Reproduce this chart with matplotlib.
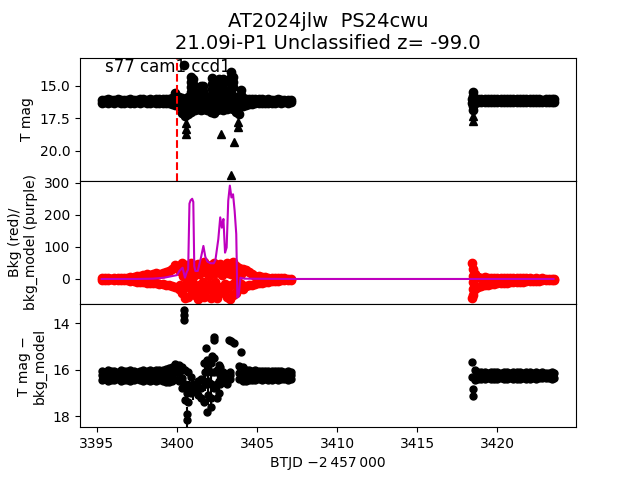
import matplotlib
matplotlib.use('Agg')
import matplotlib.pyplot as plt
import numpy as np

nan = np.nan

# ---- time grids (BTJD - 2457000) ----
t1 = [3395.3, 3395.5, 3395.7, 3395.9, 3396.1, 3396.3, 3396.5, 3396.7, 3396.9, 3397.1,
      3397.3, 3397.5, 3397.7, 3397.9, 3398.1, 3398.3, 3398.5, 3398.7, 3398.9, 3399.1,
      3399.3, 3399.5, 3399.7, 3399.9, 3400.1, 3400.3, 3400.5, 3400.7, 3400.9, 3401.1,
      3401.3, 3401.5, 3401.7, 3401.9, 3402.1, 3402.3, 3402.5, 3402.7, 3402.9, 3403.1,
      3403.3, 3403.5, 3403.7, 3403.9, 3404.1, 3404.3, 3404.5, 3404.7, 3404.9, 3405.1,
      3405.3, 3405.5, 3405.7, 3405.9, 3406.1, 3406.3, 3406.5, 3406.7, 3406.9, 3407.1]
t2 = [3418.4, 3418.6, 3418.8, 3419.0, 3419.2, 3419.4, 3419.6, 3419.8, 3420.0, 3420.2,
      3420.4, 3420.6, 3420.8, 3421.0, 3421.2, 3421.4, 3421.6, 3421.8, 3422.0, 3422.2,
      3422.4, 3422.6, 3422.8, 3423.0, 3423.2, 3423.4, 3423.5]
t_dist = [3400.2, 3400.4, 3400.6, 3400.8, 3401.0, 3401.2, 3401.4, 3401.6, 3401.8, 3402.0,
          3402.2, 3402.4, 3402.6, 3402.8, 3403.0, 3403.2, 3403.4, 3403.6, 3403.8, 3404.0]

# ---- panel 1: T mag ----
mag_hi = [16.08, 16.10, 16.06, 16.10, 16.08, 16.05, 16.10, 16.07, 16.09, 16.05,
          16.08, 16.10, 16.06, 16.04, 16.08, 16.05, 16.07, 16.03, 16.06, 16.04,
          16.02, 16.00, 15.95, 15.55, 15.90, 15.95, 16.00, 15.90, 15.95, 16.00,
          15.90, 15.95, 16.00, 15.90, 16.00, 15.95, 15.90, 16.00, 15.95, 15.90,
          16.00, 15.95, 15.90, 15.95, 15.95, 16.00, 16.02, 16.05, 16.04, 16.06,
          16.05, 16.08, 16.06, 16.07, 16.08, 16.06, 16.09, 16.08, 16.10, 16.10]
mag_lo = [16.30, 16.28, 16.32, 16.29, 16.30, 16.27, 16.31, 16.30, 16.28, 16.30,
          16.32, 16.29, 16.30, 16.28, 16.30, 16.31, 16.29, 16.30, 16.32, 16.33,
          16.35, 16.36, 16.38, 16.45, 16.60, 17.10, 17.30, 17.20, 17.00, 16.90,
          16.80, 16.90, 16.80, 16.90, 17.00, 17.10, 16.90, 16.80, 16.90, 16.80,
          16.70, 16.80, 17.00, 17.20, 16.60, 16.45, 16.40, 16.38, 16.35, 16.33,
          16.32, 16.30, 16.32, 16.30, 16.31, 16.29, 16.30, 16.28, 16.30, 16.28]
mag_mid = [16.45, 16.55, 16.60, 16.45, 16.50, 16.35, 16.40, 16.35, 16.50, 16.40,
           16.35, 16.50, 16.40, 16.35, 16.40, 16.35, 16.40, 16.50, 16.60, 16.30]
mag2_hi = [16.00, 16.02, 16.03, 16.05, 16.02, 16.04, 16.03, 16.05, 16.02, 16.04,
           16.05, 16.03, 16.04, 16.06, 16.03, 16.05, 16.04, 16.06, 16.05, 16.04,
           16.06, 16.05, 16.07, 16.05, 16.06, 16.05, 16.06]
mag2_lo = [16.35, 16.30, 16.28, 16.27, 16.29, 16.26, 16.28, 16.27, 16.29, 16.26,
           16.28, 16.27, 16.26, 16.28, 16.27, 16.26, 16.28, 16.27, 16.26, 16.27,
           16.28, 16.26, 16.27, 16.26, 16.28, 16.27, 16.26]
spk_t = [3400.46, 3400.9, 3400.9, 3400.9, 3400.9, 3400.97, 3400.97, 3400.97,
         3401.5, 3401.5, 3401.65, 3401.65, 3402.2, 3402.2, 3402.2, 3402.2,
         3402.6, 3402.6, 3402.6, 3402.6, 3402.85, 3402.85, 3402.85, 3402.85,
         3403.35, 3403.35, 3403.35, 3403.35, 3403.35, 3403.5, 3403.5, 3403.5,
         3404.0, 3404.0, 3418.45, 3418.45, 3418.45, 3418.45]
spk_m = [13.4, 14.3, 14.7, 15.1, 15.5, 14.5, 14.9, 15.3,
         15.0, 15.4, 15.0, 15.4, 14.45, 14.85, 15.25, 15.65,
         14.5, 14.9, 15.3, 15.7, 14.5, 14.9, 15.3, 15.7,
         13.95, 14.35, 14.75, 15.15, 15.55, 14.3, 14.7, 15.1,
         15.35, 15.7, 15.5, 15.8, 16.6, 16.9]
lim_t = [3400.56, 3400.56, 3400.56, 3402.75, 3403.54, 3403.83, 3403.83, 3403.38,
         3418.45, 3418.45]
lim_m = [17.9, 18.3, 18.7, 18.7, 19.3, 17.8, 18.2, 21.85, 17.3, 17.7]

# ---- panel 2: background (red) and model (purple) ----
bkg_hi = [3, 2, 4, 1, 3, 2, 4, 2, 3, 5,
          6, 8, 10, 12, 14, 13, 16, 18, 17, 20,
          22, 25, 30, 45, 40, 50, 45, 20, 50, 35,
          48, 40, 52, 30, 45, 50, 38, 48, 25, 50,
          45, 52, 40, 35, 30, 28, 22, 15, 10, 8,
          6, 5, 4, 3, 3, 2, 2, 2, 1, 1]
bkg_lo = [-3, -2, -4, -1, -3, -2, -4, -3, -2, -5,
          -6, -8, -9, -10, -12, -11, -14, -13, -15, -16,
          -18, -20, -22, -25, -30, -45, -60, -55, -30, -50,
          -62, -40, -55, -35, -60, -50, -58, -45, -30, -55,
          -62, -50, -45, -25, -30, -22, -20, -18, -15, -14,
          -12, -10, -8, -7, -6, -5, -4, -4, -3, -2]
bkg_mid1 = [25, 10, 30, 20, 5, 28, 15, 22, 30, 10, 25, 18, 30, 12, 28, 20, 15, 25, 10, 15]
bkg_mid2 = [-20, -30, -10, -25, -15, -35, -20, -8, -28, -18, -30, -10, -25, -35, -15, -28,
            -20, -10, -30, -15]
bkg2_hi = [50, 15, 5, 4, 5, 3, 4, 3, 4, 3, 2, 3, 2, 3, 2, 2, 3, 2, 2, 1, 2, 1, 2, 1, 1, 1, 1]
bkg2_lo = [-60, -30, -25, -22, -20, -18, -17, -15, -14, -13, -12, -11, -10, -10, -9, -8,
           -8, -7, -6, -6, -5, -5, -4, -4, -3, -3, -3]
bkg2_col_t = [3418.45, 3418.45, 3418.45, 3418.45, 3418.45]
bkg2_col = [30, 10, -10, -30, -50]

mod_t = [3395.3, 3397.5, 3398.5, 3399.2, 3399.6, 3400.0, 3400.15, 3400.35, 3400.5,
         3400.6, 3400.7, 3400.78, 3400.85, 3400.95, 3401.02, 3401.08, 3401.15, 3401.3,
         3401.5, 3401.65, 3401.77, 3401.9, 3402.1, 3402.3, 3402.4, 3402.58, 3402.7,
         3402.8, 3402.9, 3403.0, 3403.1, 3403.2, 3403.3, 3403.4, 3403.5, 3403.6,
         3403.7, 3403.77, 3403.85, 3403.96, 3404.2, 3407.1, 3418.4, 3423.5]
mod_v = [0, 0, 1, 4, 8, 12, 25, 35, 4,
         20, 30, 235, 245, 250, 240, 40, 25, 25,
         67, 103, 69, 54, 49, 49, 59, 124, 192,
         160, 187, 82, 98, 244, 291, 254, 264, 212,
         140, -58, -53, 4, 1, 0, 0, 0]

# ---- panel 3: T mag - bkg_model ----
dif_hi = [16.05, 16.08, 16.03, 16.06, 16.04, 16.08, 16.03, 16.06, 16.05, 16.02,
          16.06, 16.08, 16.04, 16.02, 16.06, 16.03, 16.05, 16.01, 16.03, 16.00,
          15.98, 15.93, 15.88, 15.75, 15.80, 15.90, 16.00, 16.10, 16.30, nan,
          16.50, 16.40, 15.70, 15.60, 15.70, 15.50, 16.00, 15.90, 16.10, 16.20,
          16.10, nan, nan, 15.85, 15.90, 16.00, 16.03, 16.05, 16.03, 16.06,
          16.05, 16.07, 16.04, 16.07, 16.06, 16.07, 16.05, 16.08, 16.07, 16.08]
dif_mid = [16.25, 16.24, 16.26, 16.23, 16.25, 16.27, 16.24, 16.25, 16.26, 16.24,
           16.25, 16.23, 16.26, 16.25, 16.24, 16.26, 16.25, 16.23, 16.25, 16.26,
           16.24, 16.25, 16.20, 16.05, 16.15, 16.35, 16.60, 16.75, 16.65, nan,
           16.80, 16.80, 16.50, 16.60, 16.60, 16.10, 16.60, 16.25, 16.30, 16.40,
           16.25, nan, nan, 16.15, 16.20, 16.25, 16.24, 16.26, 16.25, 16.23,
           16.25, 16.24, 16.26, 16.25, 16.24, 16.23, 16.25, 16.24, 16.26, 16.25]
dif_lo = [16.45, 16.42, 16.47, 16.44, 16.46, 16.42, 16.47, 16.44, 16.45, 16.48,
          16.44, 16.42, 16.46, 16.48, 16.44, 16.47, 16.45, 16.49, 16.46, 16.50,
          16.52, 16.52, 16.47, 16.40, 16.50, 16.80, 17.30, 17.40, 17.00, nan,
          17.10, 17.20, 17.40, 17.80, 17.60, 16.80, 17.20, 16.60, 16.50, 16.60,
          16.40, nan, nan, 16.40, 16.50, 16.48, 16.46, 16.44, 16.46, 16.42,
          16.44, 16.41, 16.43, 16.44, 16.41, 16.43, 16.41, 16.40, 16.43, 16.41]
dif2_hi = [15.65, 16.00, 16.10, 16.12, 16.10, 16.13, 16.11, 16.12, 16.10, 16.13,
           16.12, 16.11, 16.13, 16.12, 16.10, 16.12, 16.13, 16.11, 16.12, 16.13,
           16.12, 16.13, 16.12, 16.14, 16.13, 16.12, 16.14]
dif2_lo = [16.30, 16.45, 16.40, 16.38, 16.40, 16.37, 16.39, 16.38, 16.40, 16.37,
           16.38, 16.39, 16.37, 16.38, 16.40, 16.38, 16.37, 16.39, 16.38, 16.37,
           16.38, 16.36, 16.37, 16.36, 16.37, 16.38, 16.36]
dx_t = [3400.42, 3400.42, 3400.42, 3400.5, 3400.6, 3400.62, 3400.6, 3400.75, 3400.98,
        3400.98, 3401.25, 3401.4, 3401.75, 3401.75, 3401.81, 3401.95, 3401.95, 3401.95,
        3402.1, 3402.1, 3402.1, 3402.2, 3402.29, 3402.31, 3402.6, 3402.6, 3402.65,
        3402.75, 3403.25, 3403.4, 3403.55, 3404.0, 3418.45, 3418.45]
dx_m = [13.45, 13.65, 13.85, 16.75, 17.0, 17.9, 18.15, 16.7, 16.6,
        16.9, 16.8, 16.8, 16.1, 16.6, 15.05, 16.0, 16.5, 17.1,
        16.1, 16.6, 17.2, 15.4, 14.6, 14.72, 16.5, 17.0, 15.8,
        16.2, 14.72, 14.78, 14.85, 15.25, 16.85, 17.15]
dx_err = [0.05, 0.05, 0.05, 0.2, 0.25, 0.3, 0.3, 0.2, 0.3,
          0.4, 0.25, 0.25, 0.2, 0.3, 0.1, 0.3, 0.3, 0.4,
          0.3, 0.3, 0.4, 0.1, 0.05, 0.05, 0.3, 0.4, 0.1,
          0.3, 0.05, 0.05, 0.05, 0.1, 0.15, 0.15]

fig, axs = plt.subplots(3, 1, sharex=True, figsize=(6.4, 4.8))
fig.subplots_adjust(hspace=0)
ax1, ax2, ax3 = axs

# panel 1
for tt, mm in [(t1, mag_hi), (t1, mag_lo), (t_dist, mag_mid), (t2, mag2_hi), (t2, mag2_lo),
               (spk_t, spk_m)]:
    ax1.plot(tt, mm, 'ko', ms=6)
ax1.plot(lim_t, lim_m, 'k^', ms=6)
ax1.axvline(3400.0, color='r', ls='--')
ax1.text(0.05, 0.995, 's77 cam1 ccd1', transform=ax1.transAxes, va='top', fontsize=12)
ax1.set_ylim(22.3, 12.85)
ax1.set_yticks([15.0, 17.5, 20.0])
ax1.set_ylabel('T mag')
ax1.set_title('AT2024jlw  PS24cwu\n21.09i-P1 Unclassified z= -99.0', fontsize=14)

# panel 2
for tt, vv in [(t1, bkg_hi), (t1, bkg_lo), (t_dist, bkg_mid1), (t_dist, bkg_mid2),
               (t2, bkg2_hi), (t2, bkg2_lo), (bkg2_col_t, bkg2_col)]:
    ax2.plot(tt, vv, 'ro', ms=6)
ax2.plot(mod_t, mod_v, 'm-', lw=1.5)
ax2.set_ylim(-78, 306)
ax2.set_yticks([0, 100, 200, 300])
ax2.set_ylabel('Bkg (red)/\nbkg_model (purple)')

# panel 3
for tt, dd in [(t1, dif_hi), (t1, dif_mid), (t1, dif_lo), (t2, dif2_hi), (t2, dif2_lo)]:
    ax3.errorbar(tt, dd, yerr=0.05, fmt='ko', ms=5)
ax3.errorbar(dx_t, dx_m, yerr=dx_err, fmt='ko', ms=5)
ax3.set_ylim(18.47, 13.18)
ax3.set_yticks([14, 16, 18])
ax3.set_ylabel('T mag \u2212\nbkg_model')

ax3.set_xlim(3393.95, 3424.9)
ax3.set_xlabel('BTJD \u22122\u2009457\u2009000')

plt.savefig('out.png', dpi=100)
